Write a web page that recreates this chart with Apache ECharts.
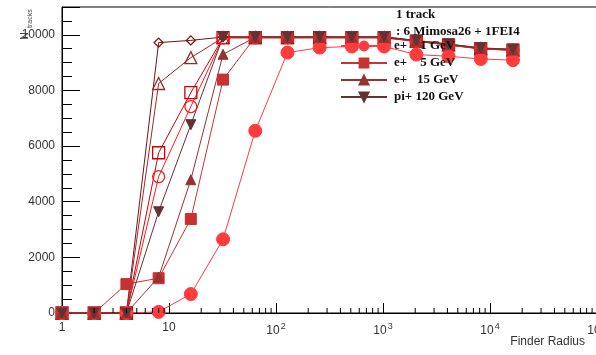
<!DOCTYPE html>
<html>
<head>
<meta charset="utf-8">
<script src="https://cdn.jsdelivr.net/npm/echarts@6/dist/echarts.min.js"></script>
<style>
  html, body { margin: 0; padding: 0; background: #fff; }
  #chart { width: 596px; height: 355px; }
</style>
</head>
<body>
<div id="chart"></div>
<script>
// Finder radius scan points (powers of two)
const radius = [1, 2, 4, 8, 16, 32, 64, 128, 256, 512, 1024, 2048, 4096, 8192, 16384];

// Number of reconstructed tracks per configuration
const e1GeV   = [0, 0, 0, 40, 680, 2650, 6550, 9360, 9540, 9580, 9580, 9290, 9230, 9130, 9090];
const e5GeV   = [0, 0, 1040, 1250, 3380, 8390, 9920, 9920, 9920, 9920, 9920, 9790, 9660, 9520, 9470];
const e15GeV  = [0, 0, 0, 1290, 4790, 9300, 9910, 9910, 9910, 9910, 9910, 9780, 9650, 9510, 9460];
const pi120GeV = [0, 0, 0, 3640, 6770, 9930, 9930, 9930, 9930, 9930, 9930, 9800, 9670, 9530, 9480];

const openSquare  = [0, 0, 0, 5760, 7920, 9900, 9900, 9900, 9900, 9900, 9900, 9770, 9640, 9500, 9450];
const openCircle  = [0, 0, 0, 4900, 7420, 9890, 9890, 9890, 9890, 9890, 9890, 9760, 9630, 9490, 9440];
const openTri     = [0, 0, 0, 8250, 9180, 9900, 9900, 9900, 9900, 9900, 9900, 9770, 9640, 9500, 9450];
const openDiamond = [0, 0, 0, 9720, 9800, 9920, 9920, 9920, 9920, 9920, 9920, 9790, 9660, 9520, 9470];

// Axis ranges
const xDecades = [1, 10, 100, 1000, 10000, 100000];
const yMax = 11000;
const yStep = 2000;

// Minor tick positions for the logarithmic axis (2..9 in each decade)
const xMinor = [];
for (let d = 0; d < xDecades.length - 1; d++) {
  for (let m = 2; m <= 9; m++) xMinor.push(xDecades[d] * m);
}

const pairs = ys => radius.map((r, i) => [r, ys[i]]);

function mkSeries(name, ys, color, symbol, size, extra) {
  return Object.assign({
    name: name,
    type: 'line',
    data: pairs(ys),
    symbol: symbol,
    symbolSize: size,
    showAllSymbol: true,
    lineStyle: { color: color, width: 1 },
    itemStyle: { color: color, borderColor: color, borderWidth: 1 },
    emphasis: { disabled: true },
    animation: false
  }, extra || {});
}

// Hollow markers: outline only, so the connecting line shows through
function mkOpen(name, ys, color, symbol, size) {
  return mkSeries(name, ys, color, symbol, size, {
    itemStyle: { color: 'rgba(0,0,0,0)', borderColor: color, borderWidth: 1.3 }
  });
}

const nameE1 = 'e+    1 GeV';
const nameE5 = 'e+    5 GeV';
const nameE15 = 'e+   15 GeV';
const namePi = 'pi+ 120 GeV';

const axisFont = 'Arial';

const series = [
  mkOpen('open diamond', openDiamond, '#7a1010', 'diamond', 9),
  mkOpen('open triangle', openTri, '#9a2a2a', 'triangle', 12),
  mkOpen('open square', openSquare, '#cc0000', 'rect', 12),
  mkOpen('open circle', openCircle, '#ff1a1a', 'circle', 12),
  mkSeries(nameE1, e1GeV, '#ff3b3b', 'circle', 13),
  mkSeries(nameE5, e5GeV, '#c83232', 'rect', 11),
  mkSeries(nameE15, e15GeV, '#963232', 'triangle', 10),
  mkSeries(namePi, pi120GeV, '#643232', 'triangle', 10, { symbolRotate: 180 }),
  {
    type: 'custom',
    silent: true,
    animation: false,
    data: xMinor.map(v => [v, 0]),
    renderItem: function (params, api) {
      const p = api.coord([api.value(0), 0]);
      return {
        type: 'line',
        shape: { x1: p[0], y1: p[1], x2: p[0], y2: p[1] - 5 },
        style: { stroke: '#000', lineWidth: 1 }
      };
    },
    z: 5
  }
];

const chart = echarts.init(document.getElementById('chart'), null, { renderer: 'canvas' });

chart.setOption({
  backgroundColor: '#fff',
  animation: false,
  grid: {
    left: 62, right: -1, top: 7, bottom: 42,
    outerBoundsMode: 'none',
    containLabel: false,
    show: true, borderColor: '#000', borderWidth: 1, backgroundColor: 'transparent'
  },
  xAxis: {
    type: 'log',
    logBase: 10,
    min: xDecades[0],
    max: xDecades[xDecades.length - 1],
    axisLine: { lineStyle: { color: '#000', width: 1 } },
    axisTick: { inside: true, length: 10, lineStyle: { color: '#000' } },
    splitLine: { show: false },
    axisLabel: {
      margin: 9,
      color: '#333',
      fontFamily: axisFont,
      fontSize: 12,
      showMaxLabel: true,
      hideOverlap: false,
      formatter: function (v) {
        const e = Math.round(Math.log10(v));
        if (e === 0) return '1';
        if (e === 1) return '10';
        return '10{sup|' + e + '}';
      },
      rich: {
        sup: { fontSize: 9, padding: [0, 0, 8, 1], color: '#333', fontFamily: axisFont }
      }
    }
  },
  yAxis: {
    type: 'value',
    min: 0,
    max: yMax,
    interval: yStep,
    axisLine: { show: true, lineStyle: { color: '#000', width: 1 } },
    axisTick: { show: true, inside: true, length: 18, lineStyle: { color: '#000' } },
    minorTick: { show: true, splitNumber: 4, length: 10, lineStyle: { color: '#000' } },
    splitLine: { show: false },
    axisLabel: {
      margin: 7,
      color: '#333',
      fontFamily: axisFont,
      fontSize: 12,
      showMaxLabel: false,
      formatter: v => String(v)
    }
  },
  legend: {
    data: [nameE1, nameE5, nameE15, namePi],
    orient: 'vertical',
    left: 340,
    top: 39,
    padding: 0,
    itemWidth: 46,
    itemHeight: 11,
    itemGap: 3,
    selectedMode: false,
    textStyle: {
      fontFamily: 'Liberation Serif, Times New Roman, serif',
      fontWeight: 'bold',
      fontSize: 13,
      lineHeight: 14,
      color: '#111',
      padding: [0, 0, 0, 2]
    }
  },
  graphic: [
    {
      type: 'text', left: 396, top: 8, z: 100,
      style: { text: '1 track', font: 'bold 13px "Liberation Serif", serif', fill: '#111' }
    },
    {
      type: 'text', left: 396, top: 25, z: 100,
      style: { text: ': 6 Mimosa26 + 1FEI4', font: 'bold 13px "Liberation Serif", serif', fill: '#111' }
    },
    {
      type: 'text', x: 25, y: 40, rotation: Math.PI / 2, z: 100,
      style: { text: 'N', font: '11px Arial, sans-serif', fill: '#444', textAlign: 'left', textVerticalAlign: 'middle' }
    },
    {
      type: 'text', x: 30, y: 28, rotation: Math.PI / 2, z: 100,
      style: { text: 'tracks', font: '7px Arial, sans-serif', fill: '#444', textAlign: 'left', textVerticalAlign: 'middle' }
    },
    {
      type: 'text', right: 11, top: 336, z: 100,
      style: { text: 'Finder Radius', font: '12px Arial, sans-serif', fill: '#333' }
    }
  ],
  series: series
});
</script>
</body>
</html>
